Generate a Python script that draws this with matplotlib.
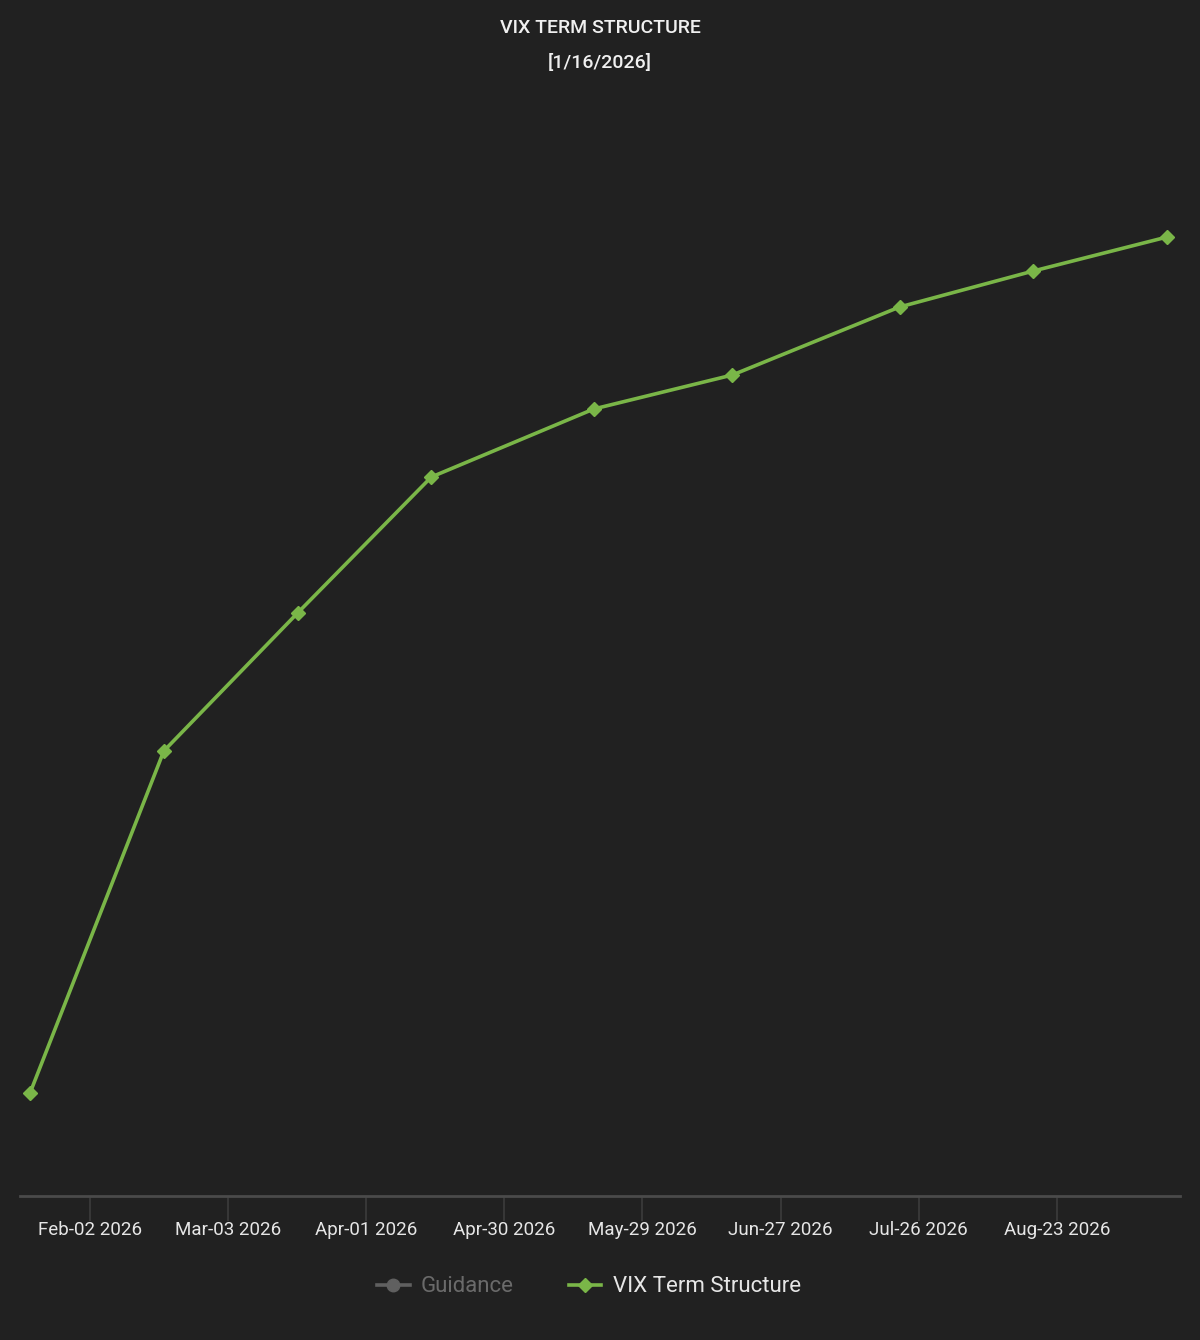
import numpy as np
import matplotlib
matplotlib.use('Agg')
import matplotlib.pyplot as plt
from matplotlib.lines import Line2D
import datetime as dt

# VIX futures expiries and settlement values
expiries = ['2026-01-21', '2026-02-18', '2026-03-18', '2026-04-15', '2026-05-19',
            '2026-06-17', '2026-07-22', '2026-08-19', '2026-09-16']
vix_values = [16.00, 17.71, 18.40, 19.08, 19.42, 19.59, 19.93, 20.11, 20.28]

tick_labels = ['Feb-02 2026', 'Mar-03 2026', 'Apr-01 2026', 'Apr-30 2026',
               'May-29 2026', 'Jun-27 2026', 'Jul-26 2026', 'Aug-23 2026']
# the axis places its ticks every ~28.9 days starting mid Feb-02
tick_start = dt.datetime(2026, 2, 2, 12)
tick_step = dt.timedelta(days=28.92)

title_1 = 'VIX TERM STRUCTURE'
title_2 = '[1/16/2026]'

bg = '#212121'
green = '#7ab648'
fam = ['Roboto', 'DejaVu Sans']

x = [dt.datetime.fromisoformat(d) for d in expiries]
xt = [tick_start + k * tick_step for k in range(len(tick_labels))]

fig = plt.figure(figsize=(12, 13.4), dpi=100, facecolor=bg)
ax = fig.add_axes([20 / 1200, 1 - 1196 / 1340, 1160 / 1200, (1196 - 90) / 1340])
ax.set_facecolor(bg)

ax.plot(x, vix_values, color=green, lw=2.6, marker='D', ms=7.5,
        markeredgecolor=green, zorder=3)

ax.set_xlim(x[0] - dt.timedelta(days=2.1), x[-1] + dt.timedelta(days=2.7))
ax.set_ylim(15.485, 21.015)

ax.set_xticks(xt)
ax.set_xticklabels(tick_labels, family=fam, fontsize=13.5, color='#e6e6e6')
ax.tick_params(axis='x', length=18, width=1.2, color='#3c3c3c', pad=0)
ax.set_yticks([])
for s in ['top', 'right', 'left']:
    ax.spines[s].set_visible(False)
ax.spines['bottom'].set_color('#4a4a4a')
ax.spines['bottom'].set_linewidth(2)

fig.text(0.5, 1 - 28 / 1340, title_1, ha='center', va='center', family=fam,
         fontsize=14, color='#f0f0f0', fontweight='medium')
fig.text(0.5, 1 - 63 / 1340, title_2, ha='center', va='center', family=fam,
         fontsize=14, color='#f0f0f0', fontweight='medium')

handles = [Line2D([], [], color='#606060', lw=2.6, marker='o', ms=9),
           Line2D([], [], color=green, lw=2.6, marker='D', ms=7.5)]
leg = fig.legend(handles, ['Guidance', 'VIX Term Structure'], loc='center',
                 bbox_to_anchor=(589 / 1200, 1 - 1287 / 1340), ncol=2, frameon=False,
                 prop={'family': fam, 'size': 16}, handlelength=1.45,
                 columnspacing=2.5, handletextpad=0.5)
leg.get_texts()[0].set_color('#6a6a6a')
leg.get_texts()[1].set_color('#e6e6e6')

fig.savefig('out.png', dpi=100, facecolor=bg)
